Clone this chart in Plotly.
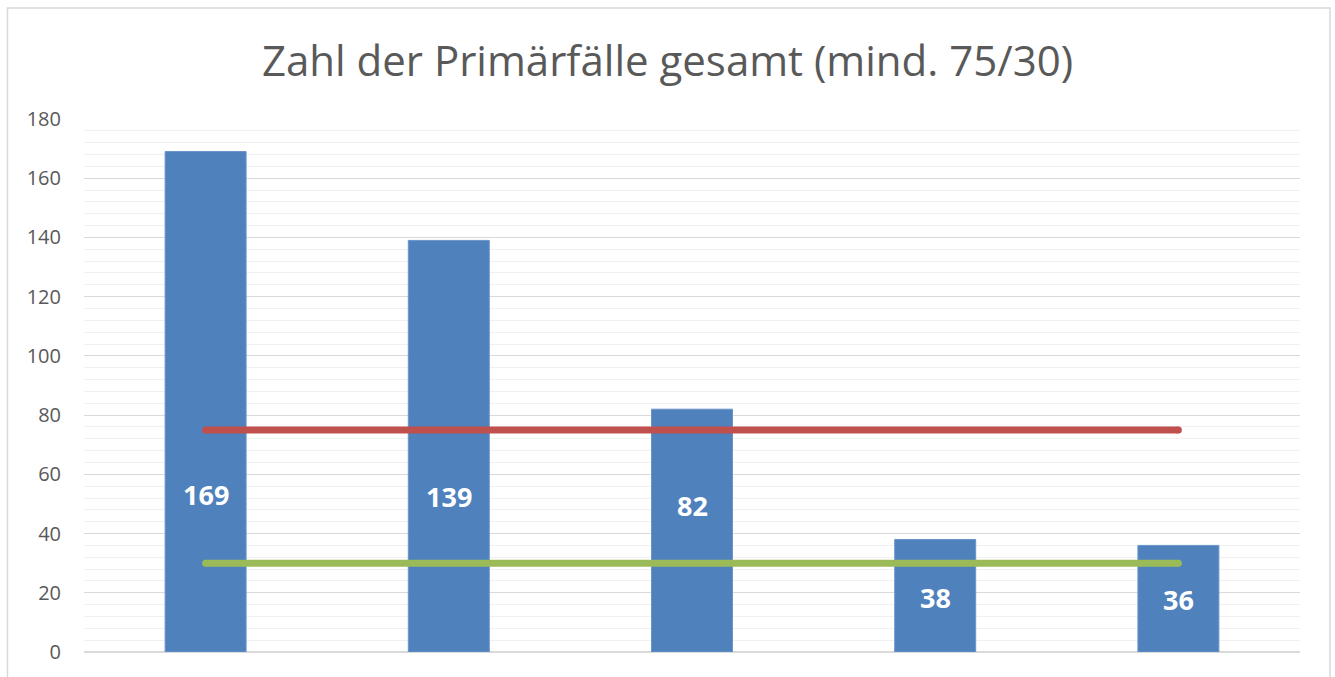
import plotly.graph_objects as go

# Data
categories = [1, 2, 3, 4, 5]
values = [169, 139, 82, 38, 36]
label_texts = ["169", "139", "82", "38", "36"]
label_y = [53.2, 52.5, 49.5, 18.5, 17.8]
threshold_hi = [75, 75]
threshold_lo = [30, 30]
threshold_x = [1, 5]
y_ticks = [0, 20, 40, 60, 80, 100, 120, 140, 160, 180]

W, H = 1335, 677
ml, mr, mt, mb = 84, 35, 119, 23
pw, ph = W - ml - mr, H - mt - mb

fig = go.Figure()
fig.add_trace(go.Bar(x=categories, y=values, marker=dict(color="#4f81bd", line=dict(color="#6a93c8", width=1)),
                     width=0.333, hoverinfo="y", showlegend=False))

for ys, col in [(threshold_hi, "#c0504d"), (threshold_lo, "#9bbb59")]:
    fig.add_trace(go.Scatter(x=threshold_x, y=ys, mode="lines+markers",
                             line=dict(color=col, width=7),
                             marker=dict(color=col, size=7, line=dict(width=0)),
                             showlegend=False, hoverinfo="y"))

for x, t, yy in zip(categories, label_texts, label_y):
    fig.add_annotation(x=x, y=yy, text="<b>%s</b>" % t, showarrow=False,
                       font=dict(family="Open Sans", size=27, color="white"), xref="x", yref="y")

# outer border
fig.add_shape(type="rect", xref="paper", yref="paper",
              x0=(7.5 - ml) / pw, x1=(1330 - ml) / pw,
              y0=(H - mb - 700) / ph, y1=(H - mb - 7.5) / ph,
              line=dict(color="#d9d9d9", width=1.5), fillcolor="rgba(0,0,0,0)", layer="below")

fig.update_layout(
    width=W, height=H,
    margin=dict(l=ml, r=mr, t=mt, b=mb),
    paper_bgcolor="white", plot_bgcolor="white",
    title=dict(text="Zahl der Primärfälle gesamt (mind. 75/30)", x=0.5, xanchor="center",
               y=1 - 61 / H, yanchor="middle",
               font=dict(family="Open Sans", size=42, color="#595959")),
    xaxis=dict(range=[0.5, 5.5], showticklabels=False, showgrid=False, zeroline=False,
               showline=False, ticks=""),
    yaxis=dict(range=[0, 180], tickvals=y_ticks, showgrid=True, gridcolor="#d9d9d9", gridwidth=1,
               zeroline=True, zerolinecolor="#d9d9d9", zerolinewidth=1.5,
               showline=False, ticks="", ticklabelstandoff=22,
               tickfont=dict(family="Open Sans", size=20, color="#595959"),
               minor=dict(dtick=4, tick0=0, showgrid=True, gridcolor="#f0f0f0", gridwidth=1)),
    bargap=0.667,
)

fig.write_html("out.html", config={"displayModeBar": False},
               post_script="document.body.style.margin='0';document.body.style.overflow='hidden';")
